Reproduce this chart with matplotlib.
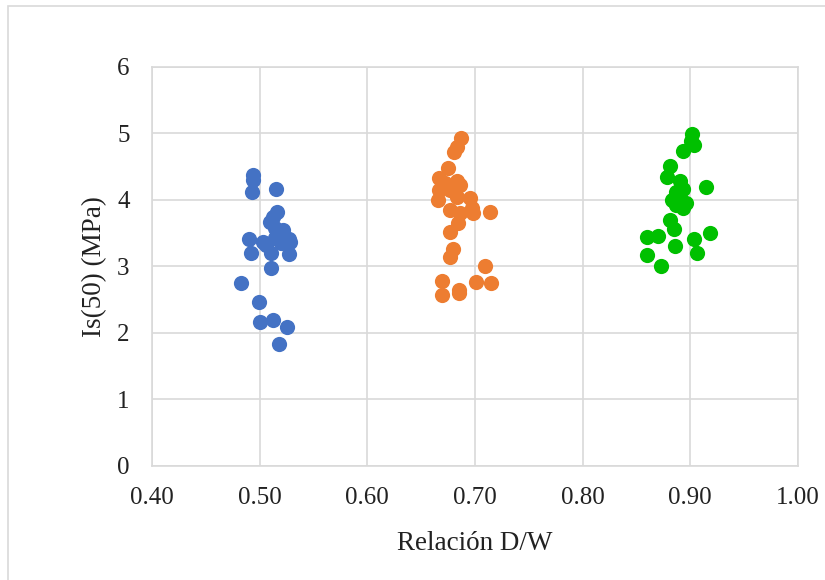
import matplotlib
matplotlib.use('agg')
import matplotlib.pyplot as plt
from matplotlib.patches import Rectangle

plt.rcParams['font.family'] = ['Liberation Serif', 'DejaVu Serif']

# D/W ratio vs Is(50), three groups
blue_x = [0.494, 0.494, 0.493, 0.515, 0.516, 0.512, 0.510, 0.522, 0.514, 0.490,
          0.503, 0.514, 0.527, 0.528, 0.492, 0.511, 0.527, 0.520, 0.511, 0.483,
          0.499, 0.500, 0.512, 0.525, 0.518, 0.518, 0.506]
blue_y = [4.38, 4.30, 4.12, 4.16, 3.82, 3.75, 3.67, 3.55, 3.58, 3.41,
          3.37, 3.43, 3.42, 3.37, 3.20, 3.20, 3.19, 3.35, 2.97, 2.75,
          2.46, 2.17, 2.20, 2.09, 1.83, 3.48, 3.33]

orange_x = [0.687, 0.683, 0.681, 0.675, 0.667, 0.672, 0.683, 0.686, 0.667, 0.677,
            0.666, 0.683, 0.695, 0.677, 0.697, 0.686, 0.698, 0.714, 0.684, 0.677,
            0.680, 0.677, 0.709, 0.669, 0.701, 0.715, 0.669, 0.685, 0.685]
orange_y = [4.93, 4.80, 4.72, 4.48, 4.33, 4.25, 4.28, 4.23, 4.15, 4.15,
            4.00, 4.05, 4.03, 3.85, 3.88, 3.80, 3.81, 3.82, 3.65, 3.52,
            3.27, 3.15, 3.00, 2.78, 2.77, 2.75, 2.57, 2.64, 2.60]

green_x = [0.902, 0.901, 0.903, 0.893, 0.881, 0.878, 0.890, 0.893, 0.915, 0.887,
           0.883, 0.890, 0.896, 0.887, 0.893, 0.881, 0.885, 0.918, 0.860, 0.870,
           0.903, 0.886, 0.860, 0.906, 0.873]
green_y = [4.99, 4.89, 4.83, 4.73, 4.51, 4.34, 4.28, 4.16, 4.19, 4.12,
           4.00, 4.03, 3.95, 3.92, 3.88, 3.70, 3.57, 3.51, 3.44, 3.46,
           3.41, 3.31, 3.17, 3.20, 3.01]

x_ticks = [0.4, 0.5, 0.6, 0.7, 0.8, 0.9, 1.0]
y_ticks = [0, 1, 2, 3, 4, 5, 6]

fig = plt.figure(figsize=(8.25, 5.8), dpi=100)
ax = fig.add_axes([0.1842, 0.1966, 0.7830, 0.6879])

# outer chart border
fig.patches.append(Rectangle((8 / 825, -0.1), 1.2, 1 - 6 / 580 + 0.1,
                             transform=fig.transFigure, fill=False,
                             edgecolor='#d9d9d9', linewidth=1.2))

ax.scatter(blue_x, blue_y, s=120, color='#4472c4', zorder=3, linewidths=0)
ax.scatter(orange_x, orange_y, s=120, color='#ed7d31', zorder=3, linewidths=0)
ax.scatter(green_x, green_y, s=120, color='#00c000', zorder=3, linewidths=0)

ax.set_xlim(0.4, 1.0)
ax.set_ylim(0, 6)
ax.set_xticks(x_ticks)
ax.set_yticks(y_ticks)
ax.set_xticklabels([f'{v:.2f}' for v in x_ticks])
ax.set_yticklabels([str(v) for v in y_ticks])
ax.grid(True, color='#d9d9d9', linewidth=1.2)
ax.set_axisbelow(True)
for s in ax.spines.values():
    s.set_color('#d9d9d9')
    s.set_linewidth(1.2)
ax.tick_params(axis='both', length=0, labelsize=18, colors='#222222')
ax.tick_params(axis='x', pad=15)
ax.tick_params(axis='y', pad=16)

ax.set_xlabel('Relación D/W', fontsize=19.5, labelpad=16, color='#222222')
ax.set_ylabel('Is(50) (MPa)', fontsize=19.5, labelpad=7, color='#222222')

plt.savefig('out.png')
